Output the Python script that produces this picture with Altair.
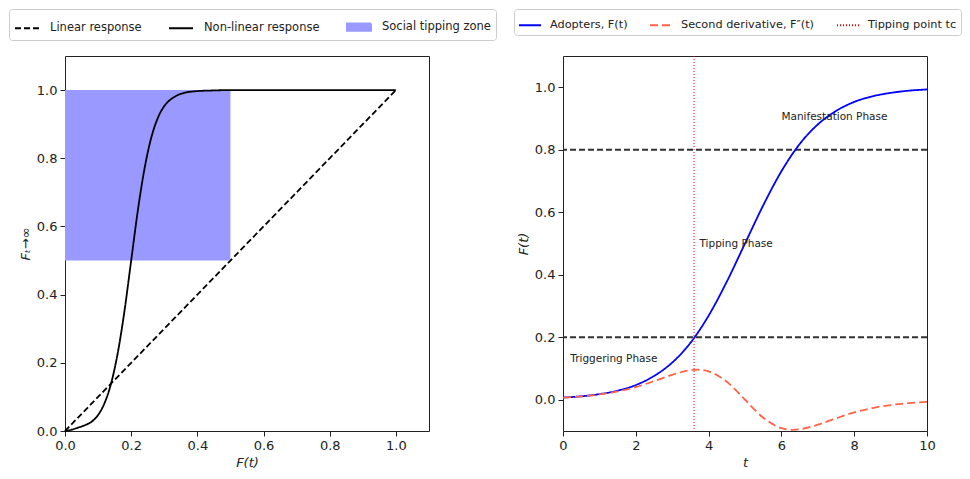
import altair as alt
import pandas as pd

# ---------------- Left panel data ----------------
left_labels = ["Linear response", "Non-linear response", "Social tipping zone"]
lin_x = [0.0, 1.0]
lin_y = [0.0, 1.0]
nl_x = [0.0, 0.02, 0.04, 0.06, 0.08, 0.10, 0.12, 0.14, 0.16, 0.18, 0.20, 0.22,
        0.24, 0.26, 0.28, 0.30, 0.32, 0.34, 0.36, 0.40, 0.45, 0.50, 0.60, 0.80, 1.0]
nl_y = [0.0, 0.004, 0.010, 0.017, 0.027, 0.047, 0.083, 0.142, 0.232, 0.354, 0.50, 0.646,
        0.768, 0.858, 0.917, 0.953, 0.973, 0.985, 0.992, 0.997, 0.999, 1.0, 1.0, 1.0, 1.0]
zone_x = [0.0, 0.5]
zone_y = [0.5, 1.0]
left_ticks = [0.0, 0.2, 0.4, 0.6, 0.8, 1.0]

# ---------------- Right panel data ----------------
right_labels = ["Adopters, F(t)", "Second derivative, F\u2033(t)", "Tipping point tc"]
t_vals = [0.0, 0.5, 1.0, 1.5, 2.0, 2.5, 3.0, 3.5, 3.7, 4.0, 4.5, 5.0, 5.5, 6.0, 6.3,
          6.5, 7.0, 7.5, 8.0, 8.5, 9.0, 9.5, 10.0]
adopters = [0.007, 0.011, 0.018, 0.029, 0.047, 0.076, 0.119, 0.182, 0.214, 0.269, 0.378,
            0.500, 0.622, 0.731, 0.786, 0.818, 0.881, 0.924, 0.953, 0.971, 0.982, 0.989, 0.993]
second_deriv = [0.0066, 0.0106, 0.0170, 0.0265, 0.0406, 0.0595, 0.0799, 0.0947, 0.0962,
                0.0908, 0.0574, 0.0, -0.0574, -0.0908, -0.0962, -0.0947, -0.0799, -0.0595,
                -0.0406, -0.0265, -0.0170, -0.0106, -0.0066]
tipping_t = 3.6
phase_lines = [0.2, 0.8]
phase_names = ["Triggering Phase", "Tipping Phase", "Manifestation Phase"]
phase_t = [0.2, 3.75, 6.0]
phase_y = [0.13, 0.50, 0.905]
right_xticks = [0, 2, 4, 6, 8, 10]
right_yticks = [0.0, 0.2, 0.4, 0.6, 0.8, 1.0]

FONT = "DejaVu Sans"
TXT = "#222222"
W, H = 364, 375

def axis(values, title, fmt, italic=True):
    return alt.Axis(values=values, title=title, format=fmt, grid=False, domain=False,
                    tickColor="#222", tickSize=5, tickWidth=1, labelFont=FONT,
                    labelFontSize=13, labelColor=TXT, labelPadding=3, titleFont=FONT,
                    titleFontSize=13, titleFontWeight="normal",
                    titleFontStyle="italic" if italic else "normal",
                    titleColor=TXT, titlePadding=4, labelFlush=False, labelOverlap=False)

def legend(lx, ly, **extra):
    kw = dict(title=None, orient="none", legendX=lx, legendY=ly, direction="horizontal",
              columns=3, symbolType="stroke", symbolSize=576, symbolStrokeWidth=2,
              labelFont=FONT, labelFontSize=11.5, labelColor=TXT, labelOffset=10,
              columnPadding=23, padding=5, strokeColor="#cccccc", cornerRadius=3,
              fillColor="white", labelLimit=300)
    kw.update(extra)
    return alt.Legend(**kw)

# ---------------- Left chart ----------------
line_df = pd.DataFrame({
    "x": lin_x + nl_x,
    "y": lin_y + nl_y,
    "series": [left_labels[0]] * len(lin_x) + [left_labels[1]] * len(nl_x),
})
zone_df = pd.DataFrame({"x": [zone_x[0]], "x2": [zone_x[1]], "y": [zone_y[0]],
                        "y2": [zone_y[1]], "series": [left_labels[2]]})

xs_l = alt.Scale(domain=[0, 1.1], nice=False, zero=False)
ys_l = alt.Scale(domain=[0, 1.1], nice=False, zero=False)
col_l = alt.Scale(domain=left_labels, range=["#000000", "#000000", "#9999ff"])
dash_l = alt.Scale(domain=left_labels, range=[[6, 3], [1, 0], [1, 0]])
zone_expr = "datum.value === 'Social tipping zone'"
leg_l = legend(-56, -47,
               symbolType=alt.ExprRef(expr=f"{zone_expr} ? 'M-1,-0.3H1V0.3H-1Z' : 'stroke'"))

lines_l = alt.Chart(line_df).mark_line(strokeWidth=1.8, interpolate="monotone").encode(
    x=alt.X("x:Q", scale=xs_l, axis=axis(left_ticks, "F(t)", ".1f")),
    y=alt.Y("y:Q", scale=ys_l, axis=axis(left_ticks, "F\u209c\u2192\u221e", ".1f")),
    color=alt.Color("series:N", scale=col_l, legend=leg_l),
    strokeDash=alt.StrokeDash("series:N", scale=dash_l, legend=leg_l),
)
zone = alt.Chart(zone_df).mark_rect(opacity=1).encode(
    x=alt.X("x:Q", scale=xs_l),
    x2="x2:Q",
    y=alt.Y("y:Q", scale=ys_l),
    y2="y2:Q",
    color=alt.Color("series:N", scale=col_l, legend=leg_l),
)
left = alt.layer(zone, lines_l).properties(width=W, height=H)

# ---------------- Right chart ----------------
curve_df = pd.DataFrame({
    "t": t_vals + t_vals,
    "v": adopters + second_deriv,
    "series": [right_labels[0]] * len(t_vals) + [right_labels[1]] * len(t_vals),
})
tip_df = pd.DataFrame({"t": [tipping_t], "series": [right_labels[2]]})
hl_df = pd.DataFrame({"y": phase_lines})
ann_df = pd.DataFrame({"t": phase_t, "y": phase_y, "text": phase_names})

xs_r = alt.Scale(domain=[0, 10], nice=False)
ys_r = alt.Scale(domain=[-0.1, 1.1], nice=False, zero=False)
col_r = alt.Scale(domain=right_labels, range=["#0000ff", "#ff6347", "#ff0000"])
dash_r = alt.Scale(domain=right_labels, range=[[1, 0], [8, 4], [1, 2]])
leg_r = legend(-49, -47, symbolSize=484, columnPadding=18, labelOffset=8,
               labelFontSize=11.3, padding=4)

hlines = alt.Chart(hl_df).mark_rule(color="#333333", strokeDash=[6, 3], strokeWidth=1.8).encode(
    y=alt.Y("y:Q", scale=ys_r, axis=axis(right_yticks, "F(t)", ".1f")),
)
curves = alt.Chart(curve_df).mark_line(strokeWidth=1.8, interpolate="monotone").encode(
    x=alt.X("t:Q", scale=xs_r, axis=axis(right_xticks, "t", "d")),
    y=alt.Y("v:Q", scale=ys_r),
    color=alt.Color("series:N", scale=col_r, legend=leg_r),
    strokeDash=alt.StrokeDash("series:N", scale=dash_r, legend=leg_r),
)
tip = alt.Chart(tip_df).mark_rule(strokeWidth=1).encode(
    x=alt.X("t:Q", scale=xs_r),
    color=alt.Color("series:N", scale=col_r, legend=leg_r),
    strokeDash=alt.StrokeDash("series:N", scale=dash_r, legend=leg_r),
)
ann = alt.Chart(ann_df).mark_text(align="left", baseline="middle", font=FONT,
                                  fontSize=10.5, color=TXT).encode(
    x=alt.X("t:Q", scale=xs_r),
    y=alt.Y("y:Q", scale=ys_r),
    text="text:N",
)
right = alt.layer(hlines, curves, tip, ann).properties(width=W, height=H)

chart = (
    alt.hconcat(left, right, spacing=134, bounds="flush")
    .resolve_scale(x="independent", y="independent", color="independent",
                   strokeDash="independent")
    .resolve_legend(color="independent", strokeDash="independent")
    .properties(padding=0, background="white")
    .configure_view(stroke="#222222", strokeWidth=1)
)

chart.save("out.html", embed_options={"renderer": "svg", "actions": False})
